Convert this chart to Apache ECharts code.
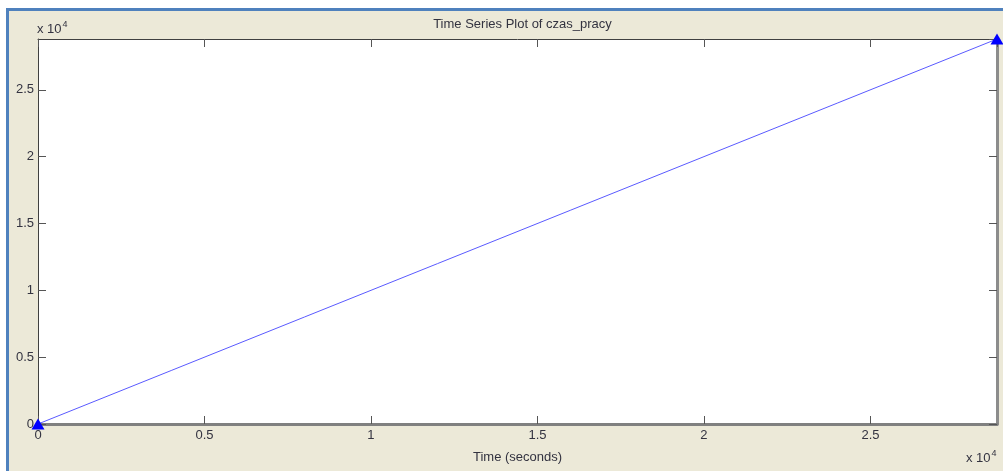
<!DOCTYPE html>
<html>
<head>
<meta charset="utf-8">
<script src="https://cdn.jsdelivr.net/npm/echarts@6/dist/echarts.min.js"></script>
<style>
html,body{margin:0;padding:0;background:#fff;}
#chart{width:1003px;height:471px;}
</style>
</head>
<body>
<div id="chart"></div>
<script>
// Data
var titleText = 'Time Series Plot of czas_pracy';
var xLabelText = 'Time (seconds)';
var times = [0, 4000, 8000, 12000, 16000, 20000, 24000, 28800];
var values = [0, 4000, 8000, 12000, 16000, 20000, 24000, 28800];
var tickLabels = ['0', '0.5', '1', '1.5', '2', '2.5'];
var axisMax = 28800;
var tickStep = 5000;

var FONT = 'Liberation Sans';
var TXT = '#333340';
var FS = 13;

var seriesData = times.map(function (t, i) {
  var item = { value: [t, values[i]] };
  if (i === 0 || i === times.length - 1) {
    item.symbol = 'triangle';
    item.symbolSize = [13, 11];
    item.itemStyle = { color: '#0000ff' };
  } else {
    item.symbol = 'none';
  }
  return item;
});

function fmt(v) {
  var idx = Math.round(v / tickStep);
  return tickLabels[idx] !== undefined && Math.abs(v - idx * tickStep) < 1e-6 ? tickLabels[idx] : '';
}

var chart = echarts.init(document.getElementById('chart'), null, { renderer: 'canvas' });

var axisCommon = {
  type: 'value', min: 0, max: axisMax, interval: tickStep,
  splitLine: { show: false },
  axisTick: { show: true, inside: true, length: 8, lineStyle: { color: '#555', width: 1 } }
};

var supRich = {
  a: { fontSize: FS, fontFamily: FONT, fill: TXT },
  b: { fontSize: 9, fontFamily: FONT, fill: TXT, padding: [0, 0, 9, 1] }
};

chart.setOption({
  animation: false,
  backgroundColor: '#ffffff',
  graphic: [
    { type: 'rect', z: -10, shape: { x: 6, y: 8, width: 997, height: 463 }, style: { fill: '#4f81bd' }, silent: true },
    { type: 'rect', z: -9, shape: { x: 9, y: 11, width: 994, height: 460 }, style: { fill: '#ece9d8' }, silent: true },
    { type: 'rect', z: -8, shape: { x: 38, y: 39, width: 959, height: 385 }, style: { fill: '#ffffff' }, silent: true },
    { type: 'text', left: 37, top: 20, style: { text: '{a|x 10}{b|4}', rich: supRich } },
    { type: 'text', left: 966, top: 449, style: { text: '{a|x 10}{b|4}', rich: supRich } }
  ],
  title: {
    text: titleText, left: 517.5, top: 13, textAlign: 'center',
    textStyle: { fontSize: FS, fontWeight: 'normal', fontFamily: FONT, color: TXT }
  },
  grid: { left: 38, top: 39, right: 6, bottom: 47, containLabel: false },
  xAxis: [
    Object.assign({}, axisCommon, {
      position: 'bottom',
      name: xLabelText, nameLocation: 'middle', nameGap: 27,
      nameTextStyle: { fontSize: FS, fontFamily: FONT, color: TXT },
      axisLine: { show: true, onZero: false, lineStyle: { color: '#808080', width: 3 } },
      axisLabel: { show: true, margin: 5, fontSize: FS, fontFamily: FONT, color: TXT, formatter: fmt, showMinLabel: true, showMaxLabel: false }
    }),
    Object.assign({}, axisCommon, {
      position: 'top',
      axisLine: { show: true, onZero: false, lineStyle: { color: '#404040', width: 1 } },
      axisLabel: { show: false }
    })
  ],
  yAxis: [
    Object.assign({}, axisCommon, {
      position: 'left',
      axisLine: { show: true, onZero: false, lineStyle: { color: '#404040', width: 1 } },
      axisLabel: { show: true, margin: 4, fontSize: FS, fontFamily: FONT, color: TXT, formatter: fmt, showMaxLabel: false }
    }),
    Object.assign({}, axisCommon, {
      position: 'right',
      axisLine: { show: true, onZero: false, lineStyle: { color: '#8c8c8c', width: 3 } },
      axisLabel: { show: false }
    })
  ],
  series: [{
    type: 'line',
    xAxisIndex: 0, yAxisIndex: 0,
    data: seriesData,
    clip: false,
    showAllSymbol: true,
    lineStyle: { color: '#5a5aff', width: 1 },
    itemStyle: { color: '#0000ff' },
    z: 5
  }]
});
</script>
</body>
</html>
